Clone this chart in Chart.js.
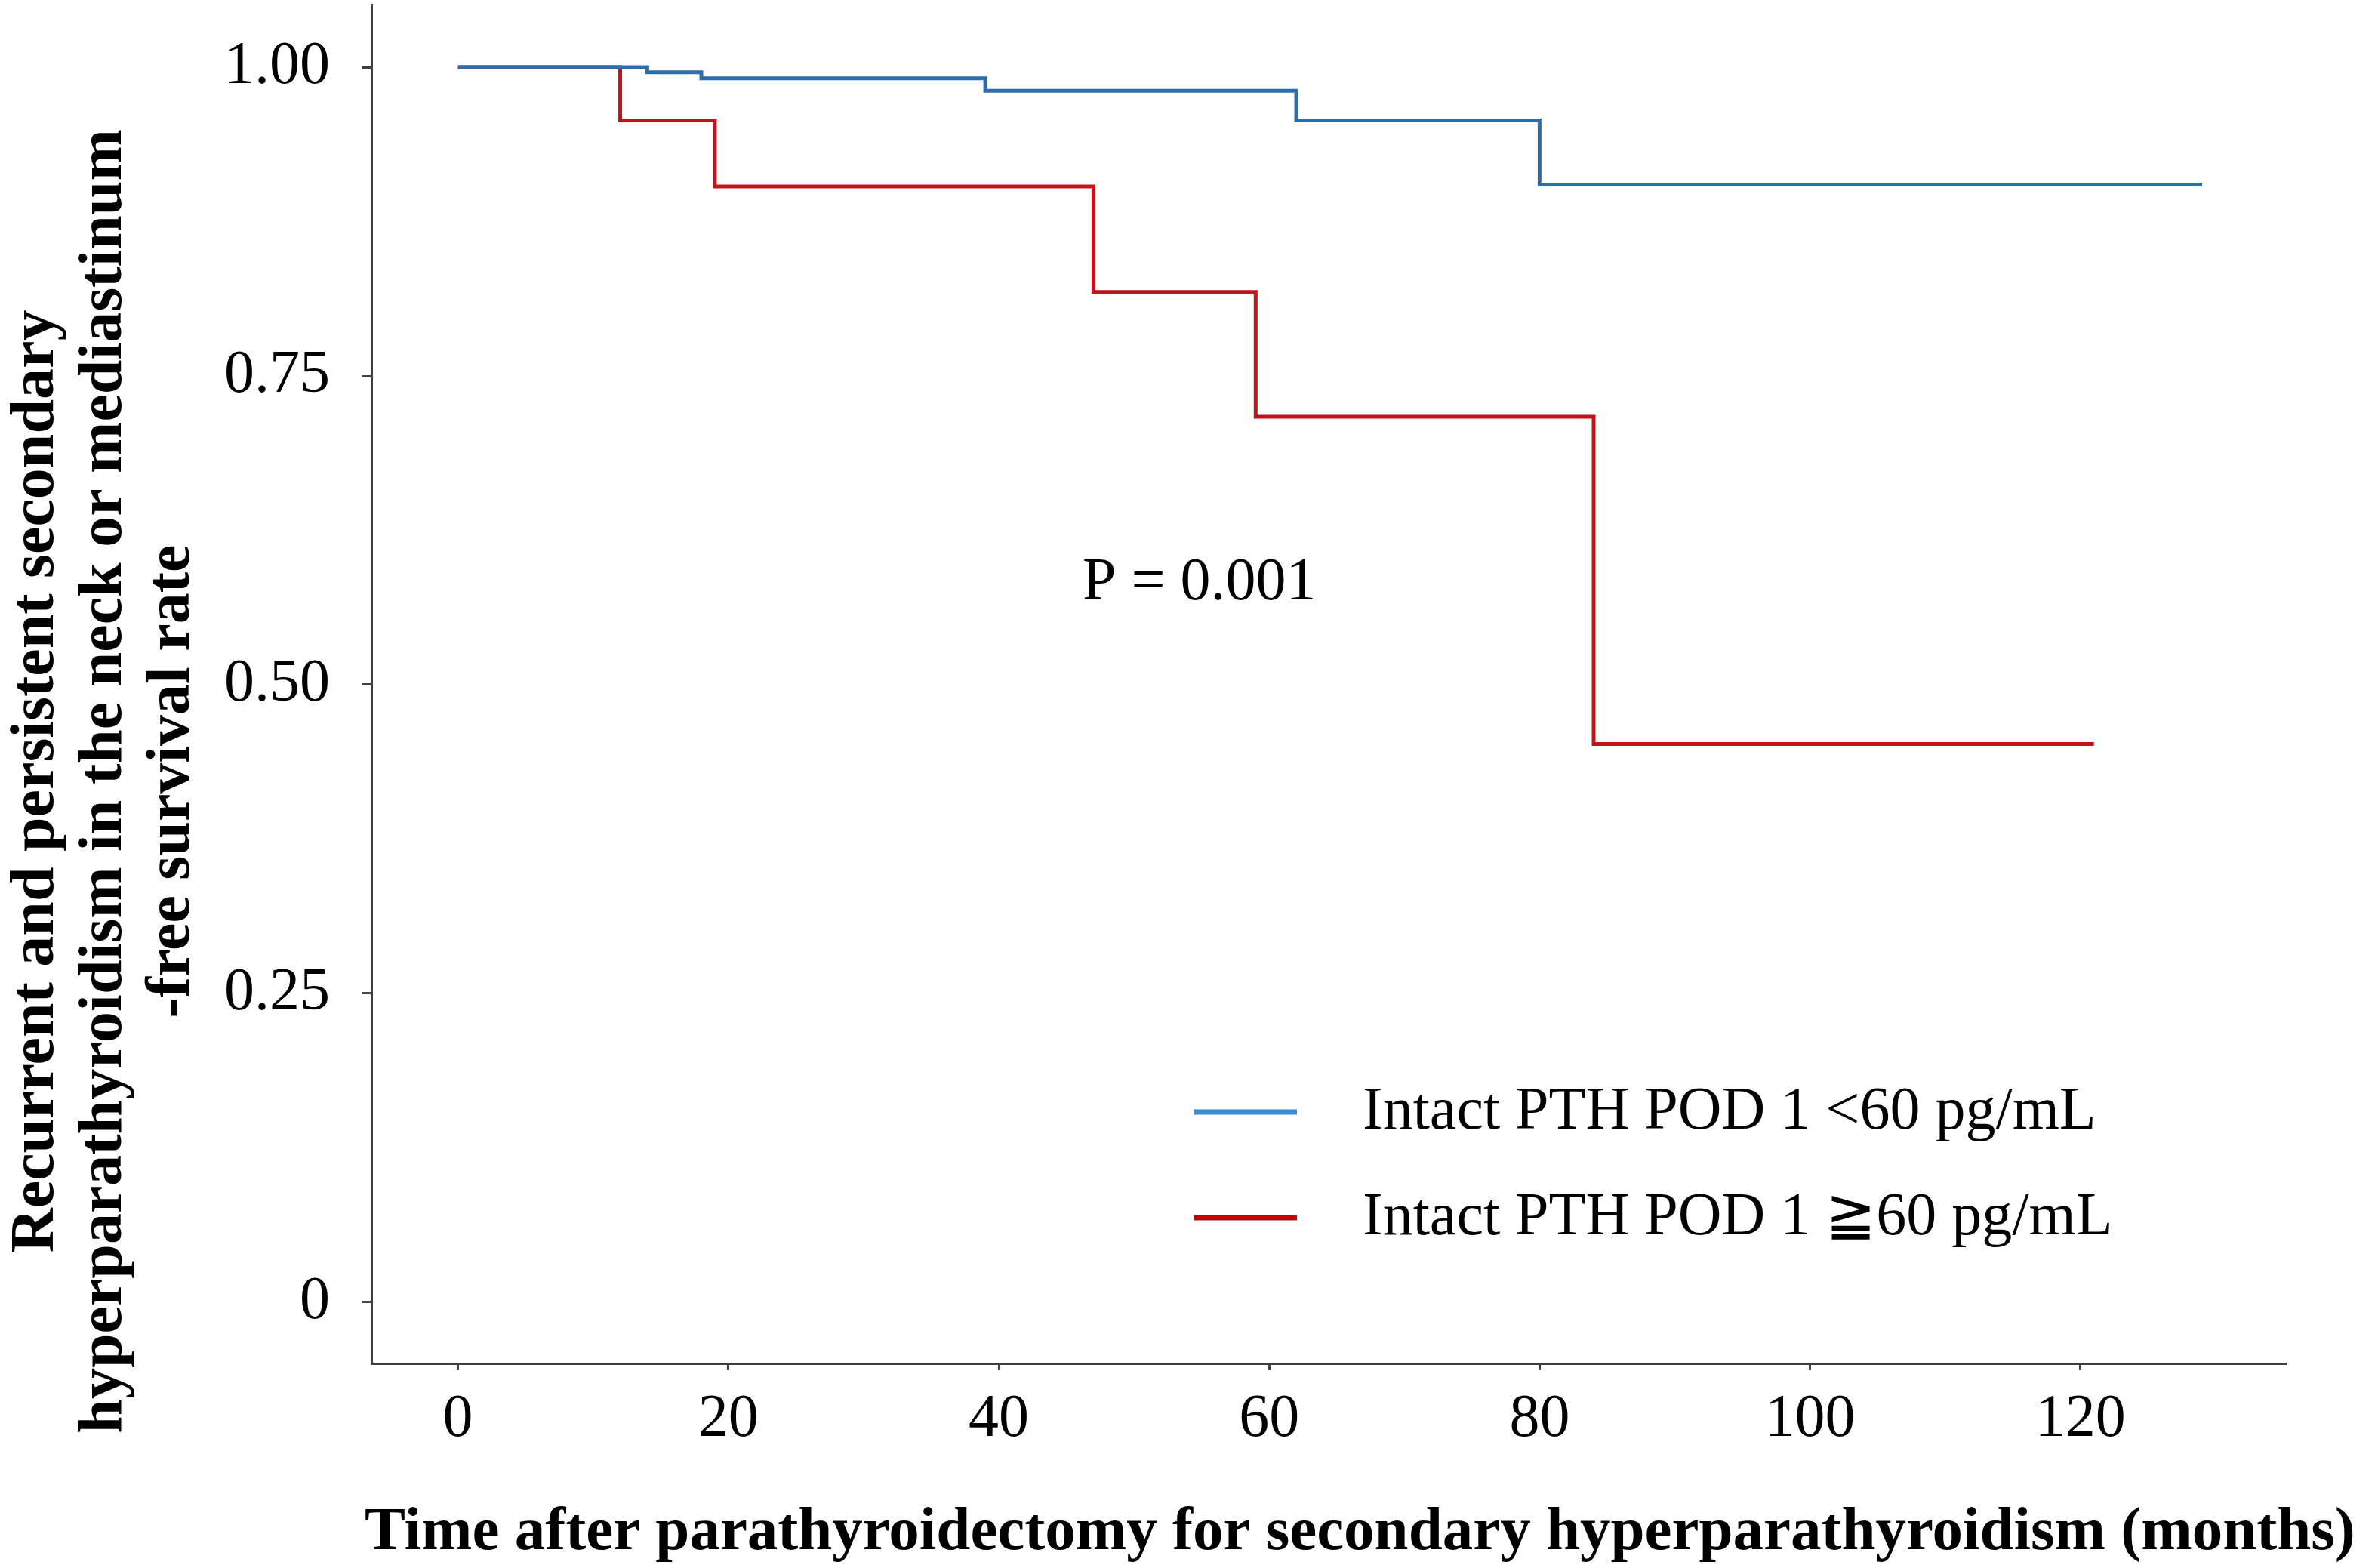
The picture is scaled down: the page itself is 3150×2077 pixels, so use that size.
<!DOCTYPE html>
<html>
<head>
<meta charset="utf-8">
<title>Recurrence-free survival</title>
<script src="https://cdn.jsdelivr.net/npm/chart.js@4.4.1/dist/chart.umd.min.js"></script>
<style>
    html, body { margin: 0; padding: 0; background: #fff; }
    #wrap { width: 3150px; height: 2077px; position: relative; }
</style>
</head>
<body>
<div id="wrap"><canvas id="kmChart"></canvas></div>
<script>
"use strict";

// Kaplan-Meier steps (months, survival rate)
const lowTimes  = [0, 14, 18, 39, 62, 80, 129];
const lowSurv   = [1.000, 0.996, 0.991, 0.981, 0.957, 0.905, 0.905];
const highTimes = [0, 12, 19, 47, 59, 84, 121];
const highSurv  = [1.000, 0.957, 0.9035, 0.818, 0.717, 0.452, 0.452];

const seriesLabels = ['Intact PTH POD 1 <60 pg/mL', 'Intact PTH POD 1 \u226760 pg/mL'];
const xTicks = [0, 20, 40, 60, 80, 100, 120];
const yTicks = [0, 0.25, 0.5, 0.75, 1];
const yTickLabels = ['0', '0.25', '0.50', '0.75', '1.00'];

const yTitleLines = [
    'Recurrent and persistent secondary',
    'hyperparathyroidism in the neck or mediastinum',
    '-free survival rate'
];
const xTitle = 'Time after parathyroidectomy for secondary hyperparathyroidism (months)';
const pText = 'P = 0.001';

const SERIF = '"Liberation Serif", "Times New Roman", "DejaVu Serif", serif';
const AXIS = '#404040';

const toPoints = (times, surv) => times.map((t, i) => ({ x: t, y: surv[i] }));

// titles, p-value and the legend drawn on top of the chart
const annotations = {
    id: 'annotations',
    afterDraw(chart) {
        const ctx = chart.ctx;
        const ds = chart.data.datasets;
        ctx.save();
        ctx.fillStyle = '#000';
        ctx.textBaseline = 'alphabetic';

        // p value
        ctx.font = '80px ' + SERIF;
        ctx.textAlign = 'left';
        ctx.fillText(pText, 1434, 794);

        // legend
        const rows = [1473, 1613];
        rows.forEach((ly, i) => {
            ctx.strokeStyle = ds[i].legendColor;
            ctx.lineWidth = 7;
            ctx.beginPath();
            ctx.moveTo(1581, ly);
            ctx.lineTo(1718, ly);
            ctx.stroke();
            ctx.fillText(ds[i].label, 1805, ly + 22);
        });

        // x title
        ctx.font = 'bold 81px ' + SERIF;
        ctx.fillText(xTitle, 483, 2052);

        // y title (rotated, centred lines)
        ctx.translate(0, 1035);
        ctx.rotate(-Math.PI / 2);
        ctx.textAlign = 'center';
        ctx.font = 'bold 82px ' + SERIF;
        const baselines = [70, 160, 250];
        yTitleLines.forEach((line, i) => ctx.fillText(line, 0, baselines[i]));

        ctx.restore();
    }
};

new Chart(document.getElementById('kmChart'), {
    type: 'line',
    data: {
        datasets: [
            {
                label: seriesLabels[0],
                data: toPoints(lowTimes, lowSurv),
                borderColor: '#2D6CAB',
                legendColor: '#3A8AD6',
                borderWidth: 5,
                stepped: 'before',
                pointRadius: 0,
                fill: false
            },
            {
                label: seriesLabels[1],
                data: toPoints(highTimes, highSurv),
                borderColor: '#C0141C',
                legendColor: '#C00000',
                borderWidth: 5,
                stepped: 'before',
                pointRadius: 0,
                fill: false
            }
        ]
    },
    options: {
        responsive: true,
        maintainAspectRatio: false,
        devicePixelRatio: 1,
        animation: false,
        events: [],
        layout: {
            autoPadding: false,
            padding: { top: 6, right: 122, left: 0, bottom: 0 }
        },
        scales: {
            x: {
                type: 'linear',
                min: -6.4,
                max: 135.2,
                afterBuildTicks: s => { s.ticks = xTicks.map(v => ({ value: v })); },
                afterFit: s => {
                    s.height = 271;
                    s.paddingLeft = 0;
                    s.paddingRight = 0;
                },
                ticks: {
                    autoSkip: false,
                    maxRotation: 0,
                    padding: 18,
                    color: '#000',
                    font: { family: SERIF, size: 80 }
                },
                grid: {
                    drawOnChartArea: false,
                    drawTicks: true,
                    tickLength: 9,
                    tickWidth: 3,
                    tickColor: AXIS
                },
                border: { display: true, color: AXIS, width: 3 }
            },
            y: {
                type: 'linear',
                min: -0.0496,
                max: 1.0508,
                afterBuildTicks: s => { s.ticks = yTicks.map(v => ({ value: v })); },
                afterFit: s => {
                    s.width = 492;
                    s.paddingTop = 0;
                    s.paddingBottom = 0;
                },
                ticks: {
                    autoSkip: false,
                    padding: 43,
                    color: '#000',
                    font: { family: SERIF, size: 80 },
                    callback: (v, i) => yTickLabels[i]
                },
                grid: {
                    drawOnChartArea: false,
                    drawTicks: true,
                    tickLength: 12,
                    tickWidth: 3,
                    tickColor: AXIS
                },
                border: { display: true, color: AXIS, width: 3 }
            }
        },
        plugins: {
            legend: { display: false },
            tooltip: { enabled: false },
            title: { display: false }
        }
    },
    plugins: [annotations]
});
</script>
</body>
</html>
